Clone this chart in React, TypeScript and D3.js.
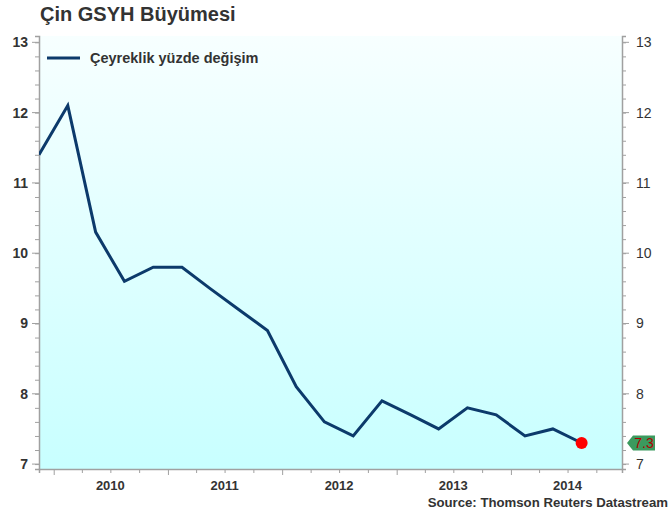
import React, { useEffect, useRef } from "react";
import * as d3 from "d3";

// quarterly GDP growth, y/y %, plotted at mid-quarter
const quarters = [
  "2009-11-15", "2010-02-15", "2010-05-15", "2010-08-15", "2010-11-15",
  "2011-02-15", "2011-05-15", "2011-08-15", "2011-11-15",
  "2012-02-15", "2012-05-15", "2012-08-15", "2012-11-15",
  "2013-02-15", "2013-05-15", "2013-08-15", "2013-11-15",
  "2014-02-15", "2014-05-15", "2014-08-15",
];
const growth = [
  11.4, 12.1, 10.3, 9.6, 9.8,
  9.8, 9.5, 9.2, 8.9,
  8.1, 7.6, 7.4, 7.9,
  7.7, 7.5, 7.8, 7.7,
  7.4, 7.5, 7.3,
];
const years = [2010, 2011, 2012, 2013, 2014];
const yTicks = [7, 8, 9, 10, 11, 12, 13];

const W = 671;
const H = 511;

const App = () => {
  const svgRef = useRef<SVGSVGElement>(null);

  useEffect(() => {
    const svg = d3.select(svgRef.current);
    svg.selectAll("*").remove();

    const left = 39;
    const right = 622;
    const top = 36;
    const bottom = 469;
    const textColor = "#333";
    const axisColor = "#a0a0a0";
    const font = "'Liberation Sans', Arial, sans-serif";

    const parse = d3.timeParse("%Y-%m-%d");
    const data = quarters.map((q, i) => ({ date: parse(q) as Date, value: growth[i] }));

    const x = d3
      .scaleTime()
      .domain([parse("2009-11-15") as Date, parse("2014-12-22") as Date])
      .range([left, right]);
    const y = d3.scaleLinear().domain([6.93, 13.09]).range([bottom, top]);

    // background gradient
    const defs = svg.append("defs");
    const grad = defs
      .append("linearGradient")
      .attr("id", "bg")
      .attr("x1", 0)
      .attr("y1", 0)
      .attr("x2", 0)
      .attr("y2", 1);
    grad.append("stop").attr("offset", "0%").attr("stop-color", "#f7ffff");
    grad.append("stop").attr("offset", "100%").attr("stop-color", "#c8ffff");

    svg
      .append("rect")
      .attr("x", left)
      .attr("y", top)
      .attr("width", right - left)
      .attr("height", bottom - top)
      .attr("fill", "url(#bg)");

    defs
      .append("clipPath")
      .attr("id", "plot")
      .append("rect")
      .attr("x", left)
      .attr("y", top)
      .attr("width", right - left)
      .attr("height", bottom - top);

    // title
    svg
      .append("text")
      .attr("x", 40)
      .attr("y", 21)
      .style("font-family", font)
      .style("font-size", "20px")
      .style("font-weight", "bold")
      .style("fill", textColor)
      .text("Çin GSYH Büyümesi");

    // y axes
    const minorY = d3.range(7, 13.01, 0.2);
    const yLeft = d3
      .axisLeft(y)
      .tickValues(minorY)
      .tickSize(4)
      .tickFormat(() => "");
    const yRight = d3
      .axisRight(y)
      .tickValues(minorY)
      .tickSize(4)
      .tickFormat(() => "");

    const gl = svg.append("g").attr("transform", `translate(${left},0)`).call(yLeft);
    const gr = svg.append("g").attr("transform", `translate(${right},0)`).call(yRight);
    [gl, gr].forEach((g) => {
      g.select(".domain").attr("stroke", axisColor).attr("stroke-width", 1.5);
      g.selectAll(".tick line").attr("stroke", axisColor);
    });

    yTicks.forEach((v) => {
      svg
        .append("line")
        .attr("x1", left - 7)
        .attr("x2", left)
        .attr("y1", y(v))
        .attr("y2", y(v))
        .attr("stroke", axisColor);
      svg
        .append("line")
        .attr("x1", right)
        .attr("x2", right + 7)
        .attr("y1", y(v))
        .attr("y2", y(v))
        .attr("stroke", axisColor);
      svg
        .append("text")
        .attr("x", 28)
        .attr("y", y(v) + 5)
        .attr("text-anchor", "end")
        .style("font-family", font)
        .style("font-size", "14px")
        .style("font-weight", "bold")
        .style("fill", textColor)
        .text(v);
      svg
        .append("text")
        .attr("x", 636)
        .attr("y", y(v) + 5)
        .style("font-family", font)
        .style("font-size", "14px")
        .style("fill", textColor)
        .text(v);
    });

    // x axis
    const xAxis = d3
      .axisBottom(x)
      .ticks(d3.timeMonth.every(3))
      .tickSize(4)
      .tickFormat(() => "");
    const gx = svg.append("g").attr("transform", `translate(0,${bottom})`).call(xAxis);
    gx.select(".domain").attr("stroke", axisColor).attr("stroke-width", 1.5);
    gx.selectAll(".tick line").attr("stroke", axisColor);
    gx.selectAll(".tick line")
      .filter((d: any) => d.getMonth() === 0)
      .attr("y2", 6);

    years.forEach((yr) => {
      svg
        .append("text")
        .attr("x", x(new Date(yr, 6, 1)))
        .attr("y", 490)
        .attr("text-anchor", "middle")
        .style("font-family", font)
        .style("font-size", "13px")
        .style("font-weight", "bold")
        .style("fill", textColor)
        .text(yr);
    });

    // series line
    const line = d3
      .line<{ date: Date; value: number }>()
      .x((d) => x(d.date))
      .y((d) => y(d.value));

    svg
      .append("path")
      .datum(data)
      .attr("clip-path", "url(#plot)")
      .attr("d", line)
      .attr("fill", "none")
      .attr("stroke", "#0c3a6b")
      .attr("stroke-width", 3)
      .attr("stroke-linejoin", "miter");

    const last = data[data.length - 1];
    svg
      .append("circle")
      .attr("cx", x(last.date))
      .attr("cy", y(last.value))
      .attr("r", 6)
      .attr("fill", "#ff0000");

    // last value tag on the right axis
    const ty = y(last.value);
    svg
      .append("path")
      .attr(
        "d",
        `M627,${ty} L633,${ty - 7.5} L655,${ty - 7.5} L655,${ty + 7.5} L633,${ty + 7.5} Z`
      )
      .attr("fill", "#3b9a5e");
    svg
      .append("text")
      .attr("x", 644)
      .attr("y", ty + 5)
      .attr("text-anchor", "middle")
      .style("font-family", font)
      .style("font-size", "14px")
      .style("fill", "#b00000")
      .text(last.value.toFixed(1));

    // legend
    svg
      .append("line")
      .attr("x1", 47)
      .attr("x2", 80)
      .attr("y1", 58)
      .attr("y2", 58)
      .attr("stroke", "#0c3a6b")
      .attr("stroke-width", 3);
    svg
      .append("text")
      .attr("x", 90)
      .attr("y", 63)
      .style("font-family", font)
      .style("font-size", "14.5px")
      .style("font-weight", "bold")
      .style("fill", textColor)
      .text("Çeyreklik yüzde değişim");

    // source
    svg
      .append("text")
      .attr("x", 668)
      .attr("y", 507)
      .attr("text-anchor", "end")
      .style("font-family", font)
      .style("font-size", "13.2px")
      .style("font-weight", "bold")
      .style("fill", textColor)
      .text("Source: Thomson Reuters Datastream");
  }, []);

  return (
    <svg
      ref={svgRef}
      width={W}
      height={H}
      style={{ position: "absolute", left: 0, top: 0, background: "#fff" }}
    />
  );
};

export default App;
